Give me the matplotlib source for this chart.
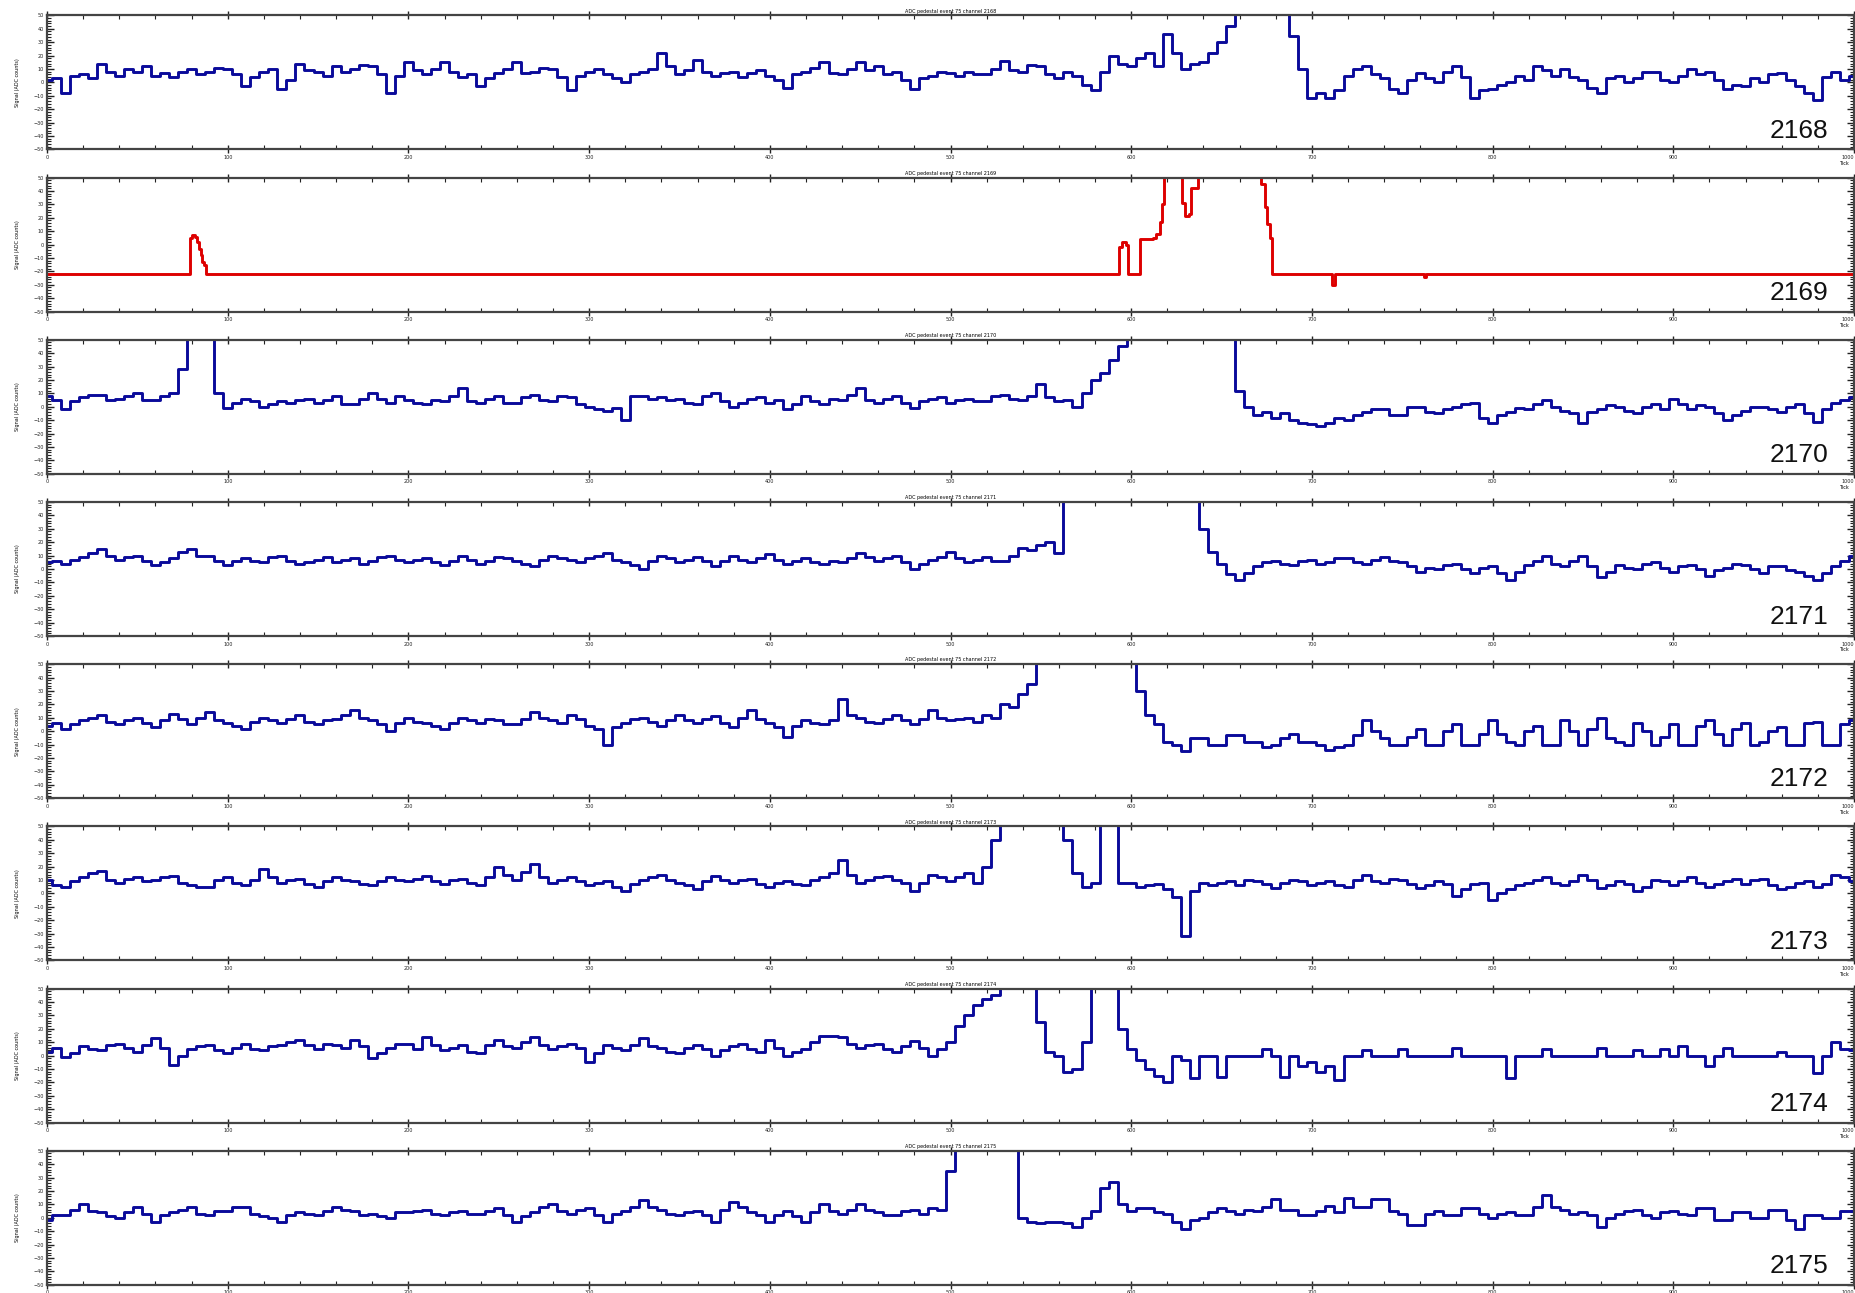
import numpy as np
import matplotlib
matplotlib.use('Agg')
import matplotlib.pyplot as plt
from matplotlib.ticker import MultipleLocator

# ADC pedestal event 75, channels 2168-2175
# values, one every 5 ticks (one row = 100 ticks)
ticks = np.arange(0, 1001, 5)

ch2168 = [2, 3, -8, 5, 6, 3, 14, 8, 5, 10, 8, 12, 5, 7, 4, 8, 10, 6, 8, 11,
          10, 6, -3, 4, 8, 10, -5, 2, 14, 9, 8, 5, 12, 8, 10, 13, 12, 6, -8, 5,
          15, 9, 6, 10, 15, 8, 4, 6, -3, 3, 7, 10, 15, 7, 8, 11, 10, 4, -6, 5,
          8, 10, 6, 3, 0, 6, 8, 10, 22, 12, 6, 9, 17, 8, 5, 7, 8, 4, 7, 9,
          5, 2, -4, 6, 8, 11, 15, 7, 6, 10, 15, 9, 12, 6, 8, 2, -5, 3, 5, 8,
          7, 5, 8, 6, 6, 10, 16, 9, 8, 13, 12, 6, 3, 8, 5, -2, -6, 8, 20, 14,
          12, 18, 22, 12, 36, 22, 10, 14, 15, 22, 30, 42, 60, 60, 60, 60, 60, 60, 35, 10,
          -12, -8, -12, -6, 5, 10, 12, 6, 3, -5, -8, 2, 7, 3, 0, 8, 12, 4, -12, -6,
          -5, -2, 0, 5, 2, 12, 9, 5, 10, 4, 2, -4, -8, 3, 5, 0, 3, 8, 8, 2,
          0, 5, 10, 6, 8, 2, -5, -2, -3, 3, 0, 6, 7, 2, -3, -8, -13, 4, 8, 2,
          5]

# channel 2169 is flat with a few pulses -> breakpoints (steps-post)
ch2169_ticks = [0, 79, 80, 82, 83, 84, 85, 86, 87, 88, 593, 595, 597, 598,
                605, 612, 614, 616, 617, 618, 628, 630, 632, 633, 637,
                672, 674, 675, 677, 678, 711, 713, 762, 763, 1000]
ch2169_vals = [-22, 5, 7, 6, 2, -3, -8, -13, -15, -22, -2, 2, 0, -22,
               4, 5, 8, 17, 30, 60, 31, 21, 23, 42, 60,
               45, 28, 15, 5, -22, -30, -22, -24, -22, -22]

ch2170 = [8, 5, -2, 4, 7, 9, 9, 5, 6, 8, 10, 5, 5, 8, 10, 28, 60, 60, 60, 10,
          -1, 3, 6, 4, 0, 2, 4, 3, 5, 6, 3, 5, 8, 2, 2, 6, 10, 6, 3, 8,
          5, 3, 2, 5, 4, 8, 14, 4, 3, 6, 8, 3, 3, 7, 9, 5, 4, 8, 7, 2,
          0, -2, -3, -1, -10, 8, 8, 6, 7, 5, 6, 3, 2, 8, 10, 4, 0, 3, 6, 7,
          3, 5, -2, 2, 8, 4, 2, 6, 5, 9, 14, 5, 3, 6, 8, 3, -1, 4, 6, 7,
          3, 5, 6, 4, 4, 8, 9, 6, 5, 8, 17, 7, 4, 5, 0, 10, 20, 25, 35, 45,
          60, 60, 60, 60, 60, 60, 60, 60, 60, 60, 60, 60, 12, 0, -6, -4, -8, -5, -10, -12,
          -13, -14, -12, -8, -10, -6, -4, -2, -2, -6, -6, 0, 0, -4, -5, -2, 0, 2, 3, -8,
          -12, -6, -4, -1, -2, 2, 5, 0, -3, -5, -12, -4, -2, 1, 0, -3, -5, 0, 2, -2,
          6, 2, -2, 1, 0, -5, -10, -6, -3, 0, 0, -2, -4, 0, 2, -5, -11, -2, 3, 5,
          7]

ch2171 = [5, 6, 4, 7, 9, 12, 15, 10, 7, 9, 10, 6, 3, 5, 8, 13, 15, 10, 10, 6,
          3, 6, 8, 6, 5, 9, 10, 6, 4, 5, 7, 9, 5, 7, 8, 4, 6, 9, 10, 7,
          5, 7, 8, 5, 3, 6, 10, 7, 4, 6, 9, 8, 6, 4, 2, 7, 10, 8, 7, 5,
          8, 10, 12, 7, 5, 3, 0, 6, 10, 8, 5, 7, 9, 6, 2, 6, 10, 7, 5, 8,
          11, 7, 4, 6, 8, 5, 4, 6, 5, 8, 12, 9, 6, 8, 10, 5, 0, 4, 7, 9,
          13, 8, 5, 7, 9, 6, 6, 10, 16, 14, 18, 20, 12, 60, 60, 60, 60, 60, 60, 60,
          60, 60, 60, 60, 60, 60, 60, 60, 30, 13, 4, -4, -8, -3, 2, 5, 6, 4, 3, 6,
          7, 4, 5, 8, 8, 5, 4, 7, 9, 6, 5, 2, -2, 1, 0, 3, 4, 0, -3, 1,
          2, -3, -8, -2, 3, 6, 10, 4, 2, 6, 10, 2, -6, -2, 3, 1, 0, 4, 5, 1,
          -2, 2, 3, 0, -5, -1, 1, 4, 3, 0, -3, 2, 2, -1, -2, -5, -8, -3, 2, 6,
          10]

ch2172 = [4, 6, 2, 5, 8, 10, 12, 7, 5, 8, 10, 6, 3, 8, 13, 9, 5, 10, 14, 8,
          6, 4, 2, 7, 10, 8, 6, 9, 12, 7, 5, 8, 9, 12, 16, 10, 8, 5, 0, 6,
          10, 7, 6, 4, 2, 6, 10, 8, 6, 9, 8, 5, 5, 9, 14, 10, 8, 6, 12, 9,
          4, 2, -10, 3, 6, 9, 10, 7, 4, 8, 12, 8, 6, 9, 11, 6, 3, 10, 16, 9,
          6, 3, -4, 4, 8, 6, 5, 8, 24, 12, 10, 7, 6, 9, 12, 8, 5, 9, 16, 10,
          8, 9, 10, 7, 12, 10, 20, 18, 28, 35, 60, 60, 60, 60, 60, 60, 60, 60, 60, 60,
          60, 30, 12, 5, -8, -10, -15, -5, -5, -10, -10, -3, -3, -8, -8, -12, -10, -5, -2, -8,
          -8, -10, -14, -12, -10, -3, 8, 0, -5, -10, -10, -4, 2, -10, -10, 0, 5, -10, -10, -2,
          8, -2, -8, -10, 0, 4, -10, -10, 8, 0, -10, 2, 10, -5, -8, -10, 6, 0, -10, -4,
          5, -10, -10, 4, 8, -2, -10, 2, 6, -10, -8, 0, 3, -10, -10, 6, 7, -10, -10, 5,
          8]

ch2173 = [10, 6, 5, 9, 12, 15, 17, 10, 8, 11, 12, 9, 10, 12, 13, 8, 6, 5, 5, 10,
          12, 8, 6, 10, 18, 12, 8, 10, 11, 7, 5, 9, 12, 10, 9, 7, 6, 9, 12, 10,
          9, 11, 13, 9, 7, 10, 11, 8, 6, 12, 20, 14, 10, 16, 22, 12, 8, 10, 12, 9,
          6, 8, 9, 5, 2, 7, 10, 12, 14, 10, 8, 6, 3, 9, 13, 10, 8, 10, 11, 7,
          5, 8, 9, 7, 6, 10, 12, 15, 25, 14, 8, 10, 12, 13, 10, 8, 2, 8, 14, 12,
          9, 12, 15, 8, 20, 40, 60, 60, 60, 60, 60, 60, 60, 40, 15, 5, 8, 60, 60, 8,
          8, 5, 6, 7, 3, -3, -32, 2, 8, 6, 8, 9, 6, 10, 9, 7, 4, 8, 10, 9,
          6, 8, 9, 6, 5, 10, 14, 9, 8, 11, 10, 7, 4, 6, 9, 7, -2, 3, 7, 8,
          -5, 0, 3, 6, 8, 10, 12, 8, 6, 9, 14, 10, 4, 6, 9, 7, 2, 5, 10, 9,
          6, 9, 12, 8, 5, 7, 9, 11, 7, 10, 11, 6, 3, 5, 8, 9, 5, 7, 14, 12,
          9]

ch2174 = [3, 6, -1, 2, 7, 5, 4, 8, 9, 6, 3, 8, 13, 6, -7, 0, 5, 7, 8, 4,
          2, 6, 9, 5, 4, 7, 8, 10, 12, 8, 5, 9, 8, 6, 12, 7, -2, 2, 6, 9,
          9, 5, 14, 8, 4, 6, 8, 3, 2, 8, 12, 7, 6, 10, 14, 8, 5, 7, 9, 6,
          -5, 2, 8, 6, 4, 8, 13, 7, 6, 3, 2, 6, 8, 5, 0, 4, 7, 9, 5, 3,
          12, 6, 0, 3, 5, 10, 15, 15, 14, 9, 6, 8, 9, 5, 3, 7, 11, 6, 0, 5,
          10, 22, 30, 38, 42, 45, 60, 60, 60, 60, 25, 3, 0, -12, -10, 10, 60, 60, 60, 20,
          5, -3, -10, -15, -20, 0, -3, -17, 0, 0, -16, 0, 0, 0, 0, 5, 0, -16, 0, -8,
          -5, -12, -8, -18, 0, 0, 4, 0, 0, 0, 5, 0, 0, 0, 0, 0, 6, 0, 0, 0,
          0, 0, -17, 0, 0, 0, 5, 0, 0, 0, 0, 0, 6, 0, 0, 0, 4, 0, 0, 5,
          0, 7, 0, 0, -8, 0, 6, 0, 0, 0, 0, 0, 3, 0, 0, 0, -13, 0, 10, 5,
          4]

ch2175 = [-2, 2, 2, 6, 10, 5, 4, 1, 0, 4, 8, 3, -3, 2, 4, 6, 8, 3, 2, 5,
          5, 8, 8, 3, 1, 0, -3, 2, 4, 3, 2, 5, 8, 6, 5, 2, 3, 1, 0, 4,
          4, 5, 6, 3, 2, 4, 5, 3, 3, 5, 7, 2, -3, 1, 4, 8, 10, 5, 3, 6,
          7, 2, -3, 3, 5, 8, 13, 8, 6, 3, 2, 4, 5, 2, -3, 6, 12, 8, 4, 2,
          -3, 2, 5, 1, -3, 4, 10, 5, 3, 6, 10, 6, 4, 2, 2, 5, 6, 3, 7, 6,
          35, 60, 60, 60, 60, 60, 60, 60, 0, -3, -4, -3, -3, -4, -7, 0, 5, 22, 27, 10,
          5, 7, 7, 4, 3, -3, -8, -2, 0, 4, 7, 5, 3, 6, 5, 8, 14, 6, 6, 2,
          2, 5, 9, 4, 15, 8, 8, 14, 14, 5, 3, -5, -5, 3, 5, 2, 2, 7, 7, 3,
          0, 3, 4, 2, 2, 8, 17, 8, 6, 3, 4, 2, -7, 0, 3, 5, 6, 2, 0, 4,
          5, 3, 2, 7, 7, -2, -2, 4, 4, 0, 0, 6, 6, -2, -8, 2, 2, 0, 0, 5,
          5]

channels = [2168, 2169, 2170, 2171, 2172, 2173, 2174, 2175]
waves = [ch2168, None, ch2170, ch2171, ch2172, ch2173, ch2174, ch2175]

blue = '#0a0a9a'
red = '#dd0000'

fig = plt.figure(figsize=(18.55, 12.93), dpi=100)
W, H = 1855.0, 1293.0

for i, ch in enumerate(channels):
    top = 15.4 + 162.2 * i
    ax = fig.add_axes([47 / W, 1 - (top + 134) / H, 1807 / W, 134 / H])
    if ch == 2169:
        ax.plot(ch2169_ticks, ch2169_vals, drawstyle='steps-post', color=red, lw=2.1)
    else:
        ax.plot(ticks, waves[i], drawstyle='steps-mid', color=blue, lw=2.1)
    ax.set_xlim(0, 1000)
    ax.set_ylim(-50, 50)
    ax.set_xticks(np.arange(0, 1001, 100))
    ax.xaxis.set_minor_locator(MultipleLocator(20))
    ax.yaxis.set_major_locator(MultipleLocator(10))
    ax.yaxis.set_minor_locator(MultipleLocator(2))
    ax.tick_params(which='major', axis='x', direction='inout', length=6, width=1,
                   top=True, labelsize=3.5, pad=1, colors='#222222')
    ax.tick_params(which='major', axis='y', direction='in', length=5, width=1,
                   right=True, labelsize=3.5, pad=2, colors='#222222')
    ax.tick_params(which='minor', direction='in', length=3, width=0.8,
                   top=True, right=True, colors='#222222')
    ax.get_xticklabels()[-1].set_horizontalalignment('right')
    for sp in ax.spines.values():
        sp.set_color('#444444')
        sp.set_linewidth(1.6)
    ax.set_title('ADC pedestal event 75 channel %d' % ch, fontsize=3.5, pad=2)
    ax.set_ylabel('Signal (ADC counts)', fontsize=3.5, labelpad=10)
    ax.text(0.986, 0.05, str(ch), transform=ax.transAxes, ha='right', va='bottom',
            fontsize=19, family='Liberation Sans', color='#111111')
    # axis name sits just under the last tick label (off the page for the last panel)
    if i < len(channels) - 1:
        ax.text(0.997, -0.085, 'Tick', transform=ax.transAxes, ha='right', va='top',
                fontsize=3.5)

fig.savefig('out.png', dpi=100)
